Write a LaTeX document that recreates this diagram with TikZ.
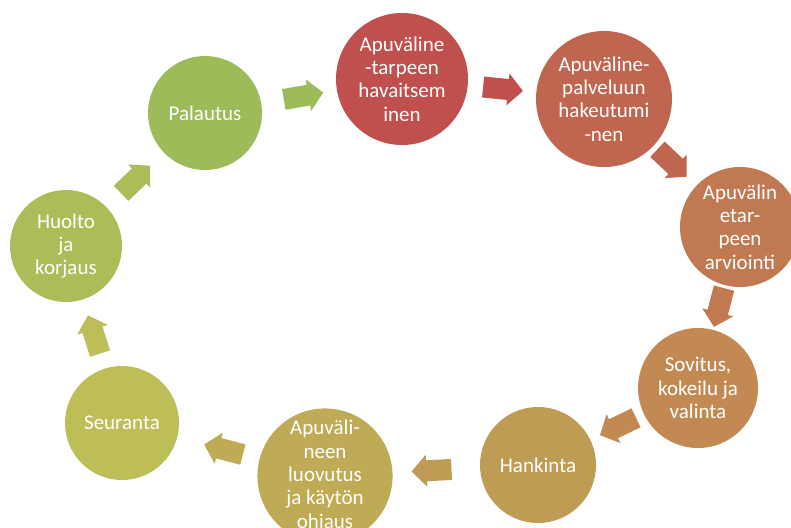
\documentclass[tikz,border=0pt]{standalone}
\usepackage{fontspec}
\setmainfont{Carlito}
\usetikzlibrary{calc}
\definecolor{c1}{HTML}{C0504D}
\definecolor{c2}{HTML}{C0654F}
\definecolor{c3}{HTML}{C17951}
\definecolor{c4}{HTML}{C28A52}
\definecolor{c5}{HTML}{BF9C53}
\definecolor{c6}{HTML}{BFAA55}
\definecolor{c7}{HTML}{BDBE58}
\definecolor{c8}{HTML}{ACBC58}
\definecolor{c9}{HTML}{9EBB59}
\tikzset{
  stage/.style={circle, fill=#1, text=white, align=center, inner sep=0pt,
    font=\fontsize{21}{23.3}\selectfont},
  flowarrow/.pic={
    \fill[#1] (-20,-10.5) -- (5,-10.5) -- (5,-16) -- (20,0) -- (5,16)
      -- (5,10.5) -- (-20,10.5) -- cycle;
  },
}
\begin{document}
\begin{tikzpicture}[x=1pt,y=-1pt]
\clip (0,0) rectangle (791,527);
\fill[white] (0,0) rectangle (791,527);
\node[stage=c1, minimum size=132pt] (n1) at (402,79) {Apuväline\\-tarpeen\\havaitsem\\inen};
\node[stage=c2, minimum size=136pt] (n2) at (604,99) {Apuväline-\\palveluun\\hakeutumi\\-nen};
\node[stage=c3, minimum size=120pt] (n3) at (740,227) {Apuvälin\\etar-\\peen\\arviointi};
\node[stage=c4, minimum size=120pt] (n4) at (698,388) {Sovitus,\\kokeilu ja\\valinta};
\node[stage=c5, minimum size=116pt] (n5) at (538,465) {Hankinta};
\node[stage=c6, minimum size=126pt] (n6) at (325,476) {Apuväli-\\neen\\luovutus\\ja käytön\\ohjaus};
\node[stage=c7, minimum size=114pt] (n7) at (122,423) {Seuranta};
\node[stage=c8, minimum size=112pt] (n8) at (66,246) {Huolto\\ja\\korjaus};
\node[stage=c9, minimum size=114pt] (n9) at (205,113) {Palautus};
\foreach \a/\b/\c in {n9/n1/c9, n1/n2/c1, n2/n3/c2, n3/n4/c3, n4/n5/c4, n5/n6/c5, n6/n7/c6, n7/n8/c7, n8/n9/c8}{
  \path let \p1=($(\b)-(\a)$), \n1={atan2(\y1,\x1)} in
    ($(\a)!0.5!(\b)$) pic[rotate=\n1] {flowarrow=\c};
}
\end{tikzpicture}
\end{document}
